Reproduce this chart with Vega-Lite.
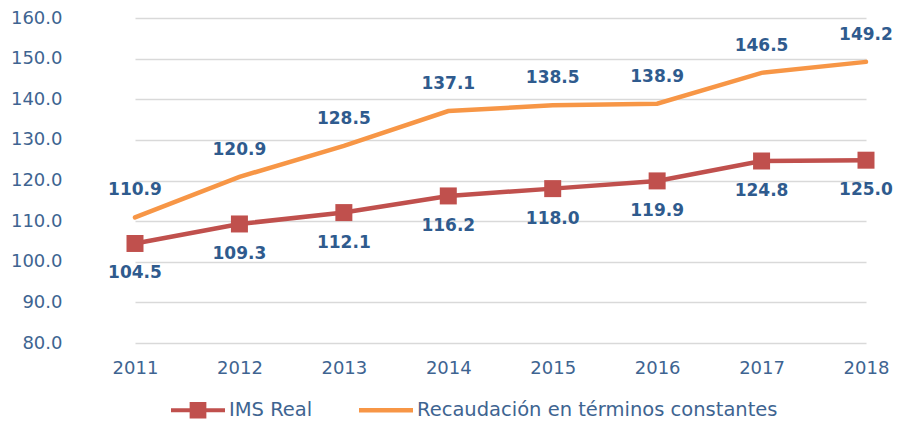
{
  "$schema": "https://vega.github.io/schema/vega-lite/v6.json",
  "width": 821,
  "height": 325,
  "autosize": "none",
  "padding": {"left": 85, "top": 18, "right": 3, "bottom": 82},
  "background": "white",
  "config": {
    "view": {"stroke": null},
    "font": "DejaVu Sans",
    "legend": {
      "title": null,
      "orient": "none",
      "direction": "horizontal",
      "legendX": 86,
      "legendY": 365,
      "symbolSize": 2916,
      "symbolOpacity": 1,
      "symbolStrokeWidth": 0,
      "labelFont": "DejaVu Sans",
      "labelFontSize": 19.5,
      "labelColor": "#3E6491",
      "labelOffset": 4,
      "columnPadding": 46,
      "labelLimit": 600
    }
  },
  "data": {
    "values": [
      {"year": "2011", "series": "IMS Real", "value": 104.5},
      {"year": "2012", "series": "IMS Real", "value": 109.3},
      {"year": "2013", "series": "IMS Real", "value": 112.1},
      {"year": "2014", "series": "IMS Real", "value": 116.2},
      {"year": "2015", "series": "IMS Real", "value": 118.0},
      {"year": "2016", "series": "IMS Real", "value": 119.9},
      {"year": "2017", "series": "IMS Real", "value": 124.8},
      {"year": "2018", "series": "IMS Real", "value": 125.0},
      {"year": "2011", "series": "Recaudación en términos constantes", "value": 110.9},
      {"year": "2012", "series": "Recaudación en términos constantes", "value": 120.9},
      {"year": "2013", "series": "Recaudación en términos constantes", "value": 128.5},
      {"year": "2014", "series": "Recaudación en términos constantes", "value": 137.1},
      {"year": "2015", "series": "Recaudación en términos constantes", "value": 138.5},
      {"year": "2016", "series": "Recaudación en términos constantes", "value": 138.9},
      {"year": "2017", "series": "Recaudación en términos constantes", "value": 146.5},
      {"year": "2018", "series": "Recaudación en términos constantes", "value": 149.2}
    ]
  },
  "encoding": {
    "x": {
      "field": "year",
      "type": "ordinal",
      "scale": {"type": "point", "range": [50, 781], "padding": 0},
      "axis": {
        "title": null,
        "labelAngle": 0,
        "domain": false,
        "ticks": false,
        "grid": false,
        "labelFont": "DejaVu Sans",
        "labelFontSize": 18,
        "labelColor": "#3E6491",
        "labelPadding": 16
      }
    },
    "y": {
      "field": "value",
      "type": "quantitative",
      "scale": {"domain": [80, 160], "nice": false, "zero": false},
      "axis": {
        "title": null,
        "values": [80, 90, 100, 110, 120, 130, 140, 150, 160],
        "format": ".1f",
        "domain": false,
        "ticks": false,
        "labelFont": "DejaVu Sans",
        "labelFontSize": 18,
        "labelColor": "#3E6491",
        "labelPadding": 23,
        "gridColor": "#D9D9D9",
        "gridWidth": 1.5
      }
    }
  },
  "layer": [
    {
      "mark": {"type": "line", "strokeWidth": 4.5, "strokeCap": "round"},
      "encoding": {
        "color": {
          "field": "series",
          "type": "nominal",
          "scale": {
            "domain": ["IMS Real", "Recaudación en términos constantes"],
            "range": ["#C0504D", "#F79646"]
          }
        }
      }
    },
    {
      "transform": [{"filter": "datum.series === 'IMS Real'"}],
      "mark": {"type": "point", "shape": "square", "filled": true, "size": 289, "opacity": 1, "color": "#C0504D"}
    },
    {
      "transform": [{"filter": "datum.series === 'IMS Real'"}],
      "mark": {"type": "text", "dy": 30, "font": "DejaVu Sans", "fontWeight": "bold", "fontSize": 17, "color": "#2F5B8E"},
      "encoding": {"text": {"field": "value", "type": "quantitative", "format": ".1f"}}
    },
    {
      "transform": [{"filter": "datum.series !== 'IMS Real'"}],
      "mark": {"type": "text", "dy": -27, "font": "DejaVu Sans", "fontWeight": "bold", "fontSize": 17, "color": "#2F5B8E"},
      "encoding": {"text": {"field": "value", "type": "quantitative", "format": ".1f"}}
    },
    {
      "mark": {"type": "point", "filled": true, "opacity": 0},
      "encoding": {
        "color": {
          "field": "series",
          "type": "nominal",
          "scale": {
            "domain": ["IMS Real", "Recaudación en términos constantes"],
            "range": ["#C0504D", "#F79646"]
          }
        },
        "shape": {
          "field": "series",
          "type": "nominal",
          "scale": {
            "domain": ["IMS Real", "Recaudación en términos constantes"],
            "range": [
              "M-1,-0.075H1V0.075H-1Z M-0.31,-0.31H0.31V0.31H-0.31Z",
              "M-1,-0.085H1V0.085H-1Z"
            ]
          }
        }
      }
    }
  ]
}
